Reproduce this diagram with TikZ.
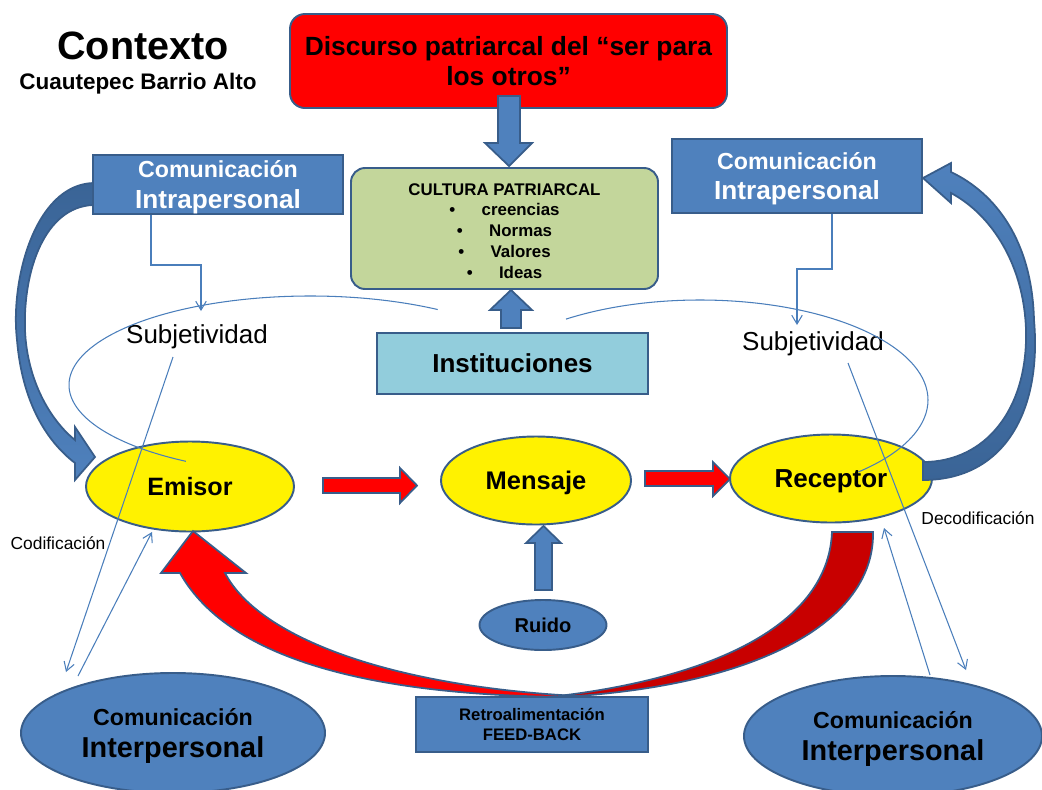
\documentclass[tikz,border=0pt]{standalone}
\usepackage{fontspec}
\setmainfont{Liberation Sans}
\usetikzlibrary{shapes.geometric,arrows.meta,calc}
\definecolor{outl}{HTML}{385D8A}
\definecolor{bfill}{HTML}{4F81BD}
\definecolor{bdark}{HTML}{3A6496}
\definecolor{lnblue}{HTML}{4A7EBB}
\definecolor{gfill}{HTML}{C3D69B}
\definecolor{lbfill}{HTML}{92CDDC}
\definecolor{dred}{HTML}{C80000}
\newcommand{\px}{0.02cm}
\newcommand{\fsz}[2]{\fontsize{#1}{#2}\selectfont}
\tikzset{
  box/.style={draw=outl, line width=1.1pt, inner sep=0pt, align=center},
  ell/.style={ellipse, draw=outl, line width=1.1pt, inner sep=0pt, align=center},
  thinln/.style={draw=lnblue, line width=0.6pt},
  arr/.style={-{Straight Barb[length=5pt,width=6pt]}},
  blockred/.style={fill=red, draw=outl, line width=1pt},
  blockblue/.style={fill=bfill, draw=outl, line width=1pt},
}
\begin{document}
\begin{tikzpicture}[x=0.02cm,y=0.02cm]
\useasboundingbox (0,0) rectangle (1042,-789);
\clip (0,0) rectangle (1042,-789);

% title
\node[font=\bfseries\fsz{22.5}{26}] (ctx) at (143,-46) {Contexto};
\node[font=\bfseries\fsz{12.8}{15}] (cba) at (138,-84) {Cuautepec Barrio Alto};

% left curved blue arrow (behind the box)
\shadedraw[top color=bdark, bottom color=bfill, draw=outl, line width=1pt]
  (93,-183) .. controls (35,-185) and (10,-280) .. (17,-340)
  .. controls (22,-400) and (45,-440) .. (75,-463)
  -- (75,-480) -- (95,-457) -- (75,-427) -- (75,-440)
  .. controls (50,-420) and (27,-380) .. (25,-330)
  .. controls (23,-270) and (45,-207) .. (93,-205) -- cycle;

% boxes
\node[box, fill=red, rounded corners=8.5pt, minimum width=437*\px, minimum height=94*\px,
      font=\bfseries\fsz{15}{17}] (disc) at (508.5,-61) {Discurso patriarcal del “ser para\\los otros”};
\node[box, fill=gfill, rounded corners=8pt, minimum width=307*\px, minimum height=121*\px,
      font=\bfseries\fsz{9.6}{11.9}] (cult) at (504.5,-228.5)
      {\\[-2.3pt]CULTURA PATRIARCAL\\\textbullet\hspace{15pt}creencias\\\textbullet\hspace{15pt}Normas\\\textbullet\hspace{15pt}Valores\\\textbullet\hspace{15pt}Ideas};
\node[box, fill=lbfill, minimum width=271*\px, minimum height=61*\px,
      font=\bfseries\fsz{14.8}{17}] (inst) at (512.5,-363.5) {Instituciones};
\node[box, fill=bfill, text=white, minimum width=250*\px, minimum height=59*\px, text depth=0pt,
      font=\bfseries\fsz{14.9}{17.3}] (ciL) at (218,-184.5) {{\fsz{13.2}{15}Comunicación}\\Intrapersonal};
\node[box, fill=bfill, text=white, minimum width=250*\px, minimum height=74*\px, text depth=0pt,
      font=\bfseries\fsz{14.9}{17.3}] (ciR) at (797,-176) {{\fsz{13.2}{15}Comunicación}\\Intrapersonal};

% block arrows
\draw[blockblue] (498,-96) -- (520,-96) -- (520,-143) -- (532,-143) -- (509,-166) -- (485,-143) -- (498,-143) -- cycle;
\draw[blockblue] (501,-328) -- (521,-328) -- (521,-310) -- (532,-310) -- (511,-290) -- (490,-310) -- (501,-310) -- cycle;

% subjetividad
\node[font=\fsz{14.8}{17}] (subjL) at (197,-337) {Subjetividad};
\node[font=\fsz{14.8}{17}] (subjR) at (813,-344) {Subjetividad};

% main ellipses
\node[ell, fill=yellow, minimum width=208*\px, minimum height=90*\px, text height=10.3pt, text depth=0pt, font=\bfseries\fsz{14.3}{17}] (emi) at (190,-486.5) {Emisor};
\node[ell, fill=yellow, minimum width=190*\px, minimum height=88*\px, text height=10.4pt, text depth=0pt, font=\bfseries\fsz{14.5}{17}] (men) at (536,-480.5) {Mensaje};
\node[ell, fill=yellow, minimum width=202*\px, minimum height=88*\px, text height=10.6pt, text depth=0pt, font=\bfseries\fsz{14.8}{17}] (rec) at (831,-478.5) {Receptor};

% right curved blue arrow
\shadedraw[top color=bfill, bottom color=bdark, draw=outl, line width=1pt]
  (923,-480) .. controls (1005,-480) and (1042,-410) .. (1034,-320)
  .. controls (1032,-240) and (995,-193) .. (951,-172)
  -- (951,-163) -- (923,-178) -- (951,-203) -- (951,-193)
  .. controls (992,-215) and (1024,-265) .. (1026,-330)
  .. controls (1028,-410) and (985,-462) .. (923,-462) -- cycle;

% red arrows
\draw[blockred] (323,-478) -- (400,-478) -- (400,-468) -- (417,-485.5) -- (400,-503) -- (400,-493) -- (323,-493) -- cycle;
\draw[blockred] (645,-471) -- (713,-471) -- (713,-462) -- (730,-479) -- (713,-496) -- (713,-486) -- (645,-486) -- cycle;

% ruido
\node[ell, fill=bfill, minimum width=127*\px, minimum height=50*\px, font=\bfseries\fsz{11.4}{13}] (rui) at (543,-625) {Ruido};
\draw[blockblue] (535,-590) -- (552,-590) -- (552,-543) -- (561,-543) -- (543.5,-526) -- (526,-543) -- (535,-543) -- cycle;

% feedback arrow
\filldraw[fill=dred, draw=outl, line width=1pt]
  (832,-532) -- (873,-532) .. controls (875,-620) and (760,-690) .. (540,-698)
  .. controls (700,-682) and (828,-630) .. (832,-532) -- cycle;
\filldraw[fill=red, draw=outl, line width=1pt]
  (193,-531) -- (246,-573) -- (225,-573) .. controls (260,-640) and (400,-690) .. (600,-697)
  .. controls (380,-699) and (230,-662) .. (180,-573) -- (161,-573) -- cycle;

\node[box, fill=bfill, minimum width=232*\px, minimum height=55*\px, font=\bfseries\fsz{9.5}{11.3}] (retro) at (532,-724.5) {Retroalimentación\\FEED-BACK};

% interpersonal
\node[ell, fill=bfill, minimum width=304*\px, minimum height=120*\px, text depth=0pt, font=\bfseries\fsz{16.4}{18.5}] (ciiL) at (173,-733) {{\fsz{13.2}{15}Comunicación}\\Interpersonal};
\node[ell, fill=bfill, minimum width=298*\px, minimum height=120*\px, text depth=0pt, font=\bfseries\fsz{16.4}{18.5}] (ciiR) at (893,-736) {{\fsz{13.2}{15}Comunicación}\\Interpersonal};

% labels
\node[font=\fsz{9.9}{12}] (cod) at (58,-543) {Codificación};
\node[font=\fsz{9.9}{12}] (dec) at (978,-518) {Decodificación};

% thin connectors
\coordinate (bL) at (201,-265);
\coordinate (aL) at (201,-311);
\coordinate (bR) at (797,-269);
\coordinate (aR) at (797,-325);
\draw[thinln, arr] ([xshift=-67*\px]ciL.south) |- (bL) -- (aL);
\draw[thinln, arr] ([xshift=35*\px]ciR.south) |- (bR) -- (aR);

\coordinate (l1s) at (173,-357);
\coordinate (l1e) at (66,-672);
\coordinate (l2s) at (78,-676);
\coordinate (l2e) at (152,-532);
\coordinate (r1s) at (848,-363);
\coordinate (r1e) at (966,-670);
\coordinate (r2s) at (930,-675);
\coordinate (r2e) at (884,-528);
\draw[thinln, arr] (l1s) -- (l1e);
\draw[thinln, arr] (l2s) -- (l2e);
\draw[thinln, arr] (r1s) -- (r1e);
\draw[thinln, arr] (r2s) -- (r2e);

% subjectivity loops
\draw[thinln] (310,-385) ++(58:241 and 89) arc[start angle=58, end angle=239, x radius=241, y radius=89];
\draw[thinln] (700,-400) ++(126:228 and 100) arc[start angle=126, end angle=-46, x radius=228, y radius=100];
\end{tikzpicture}
\end{document}
